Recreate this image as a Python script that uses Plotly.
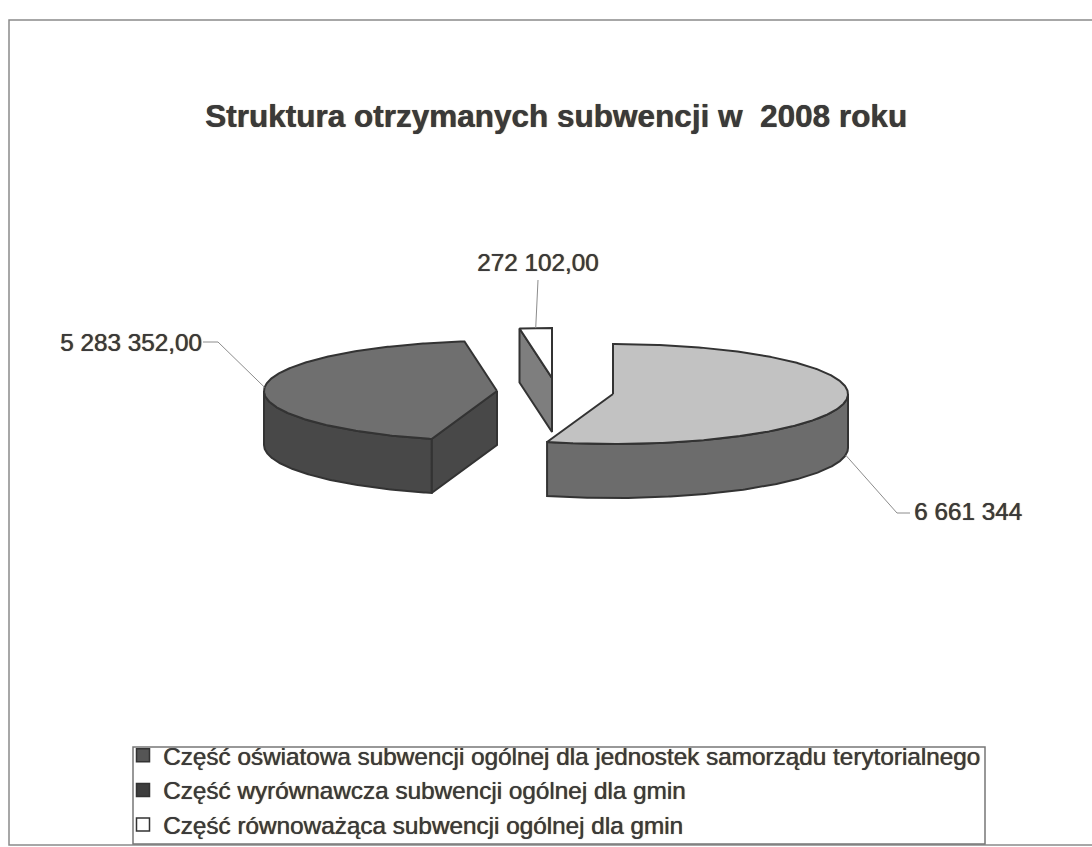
import numpy as np
import plotly.graph_objects as go

TITLE = "Struktura otrzymanych subwencji w  2008 roku"
categories = [
    "Część oświatowa subwencji ogólnej dla jednostek samorządu terytorialnego",
    "Część wyrównawcza subwencji ogólnej dla gmin",
    "Część równoważąca subwencji ogólnej dla gmin",
]
values = [6661344, 5283352, 272102]
value_labels = ["6 661 344", "5 283 352,00", "272 102,00"]

# styles and geometry (pixel-like axis space)
TOP_COLORS = ["#c2c2c2", "#6f6f6f", "#ffffff"]
SIDE_COLORS = ["#6c6c6c", "#484848", "#7e7e7e"]
LEGEND_COLORS = ["#555555", "#3e3e3e", "#ffffff"]
EDGE = "#333333"
TEXT = "#3a3a3a"
SHADOW = "0.4px 0 0.7px #3a3a3a"
CENTRES = [(613, 394), (497, 391), (552, 378)]
RADII = [(235, 50), (233, 50), (233, 50)]
DEPTH = 54


def pt(c, r, deg):
    a = np.radians(deg)
    return c[0] + r[0] * np.sin(a), c[1] - r[1] * np.cos(a)


def arc(c, r, a0, a1, dy=0.0):
    n = max(2, int(abs(a1 - a0) * 2) + 2)
    t = np.linspace(a0, a1, n)
    x, y = pt(c, r, t)
    return x, y + dy


total = sum(values)
angles = np.concatenate([[0], np.cumsum(values) / total * 360])

fig = go.Figure()


def face(x, y, fill, width=2):
    fig.add_trace(go.Scatter(
        x=list(x) + [x[0]], y=list(y) + [y[0]], mode="lines", fill="toself",
        fillcolor=fill, line=dict(color=EDGE, width=width), hoverinfo="skip",
        showlegend=False,
    ))


for i, (a0, a1) in enumerate(zip(angles[:-1], angles[1:])):
    c, r = CENTRES[i], RADII[i]
    # flat cut faces that look towards the viewer
    for ang, sign in ((a0, -1), (a1, 1)):
        na = np.radians(ang + sign * 90)
        if np.cos(na) < -1e-6:
            ex, ey = pt(c, r, ang)
            face([c[0], ex, ex, c[0]],
                 [c[1], ey, ey + DEPTH, c[1] + DEPTH], SIDE_COLORS[i])
    # curved outer wall, front half only
    lo, hi = max(a0, 90), min(a1, 270)
    if hi > lo:
        tx, ty = arc(c, r, lo, hi)
        bx, by = arc(c, r, hi, lo, DEPTH)
        face(np.r_[tx, bx], np.r_[ty, by], SIDE_COLORS[i])
    # top surface
    ax, ay = arc(c, r, a0, a1)
    face(np.r_[c[0], ax], np.r_[c[1], ay], TOP_COLORS[i])

# leader lines and value labels
mids = (angles[:-1] + angles[1:]) / 2
anchors = [pt(CENTRES[i], RADII[i], mids[i]) for i in range(3)]
anchors[0] = (anchors[0][0], anchors[0][1] + DEPTH)
leaders = [
    ([anchors[0][0], 897, 910], [anchors[0][1], 513, 513], (1024, 511, "right")),
    ([anchors[1][0], 218, 203], [anchors[1][1], 342, 342], (204, 342, "right")),
    ([anchors[2][0], 538], [anchors[2][1], 280], (601, 262, "right")),
]
annots = []
for (lx, ly, (tx, ty, anc)), lab in zip(leaders, value_labels):
    fig.add_trace(go.Scatter(x=lx, y=ly, mode="lines", hoverinfo="skip",
                             line=dict(color="#8c8c8c", width=1), showlegend=False))
    annots.append(dict(x=tx, y=ty, xref="x", yref="y", text=lab, showarrow=False,
                       xanchor=anc, yanchor="middle",
                       font=dict(family="Liberation Sans", size=24.3, color=TEXT, shadow=SHADOW)))

# legend entries
for name, col in zip(categories, LEGEND_COLORS):
    fig.add_trace(go.Scatter(
        x=[None], y=[None], mode="markers", name=name,
        marker=dict(symbol="square", size=13, color=col, line=dict(color=EDGE, width=1.5)),
    ))

fig.update_layout(
    width=1092, height=847, margin=dict(l=0, r=0, t=0, b=0, autoexpand=False),
    paper_bgcolor="#ffffff", plot_bgcolor="#ffffff",
    xaxis=dict(range=[0, 1092], visible=False, fixedrange=True),
    yaxis=dict(range=[847, 0], visible=False, fixedrange=True),
    title=dict(text="<b>%s</b>" % TITLE, x=556 / 1092, xanchor="center", y=1 - 116 / 847,
               yanchor="middle",
               font=dict(family="Liberation Sans", size=31.5, color=TEXT, shadow=SHADOW)),
    legend=dict(x=123 / 1092, y=1 - 733 / 847, xanchor="left", yanchor="top",
                bgcolor="rgba(0,0,0,0)", borderwidth=0,
                font=dict(family="Liberation Sans", size=24.3, color=TEXT, shadow=SHADOW)),
    annotations=annots,
    shapes=[
        dict(type="rect", xref="x", yref="y", x0=9, y0=20, x1=1120, y1=845,
             line=dict(color="#8a8a8a", width=1.5), layer="below"),
        dict(type="rect", xref="x", yref="y", x0=133, y0=747, x1=985, y1=844,
             line=dict(color="#777777", width=1.5), layer="below"),
    ],
)

fig.write_html("out.html", config={"displayModeBar": False},
               post_script="document.body.style.margin='0';")
